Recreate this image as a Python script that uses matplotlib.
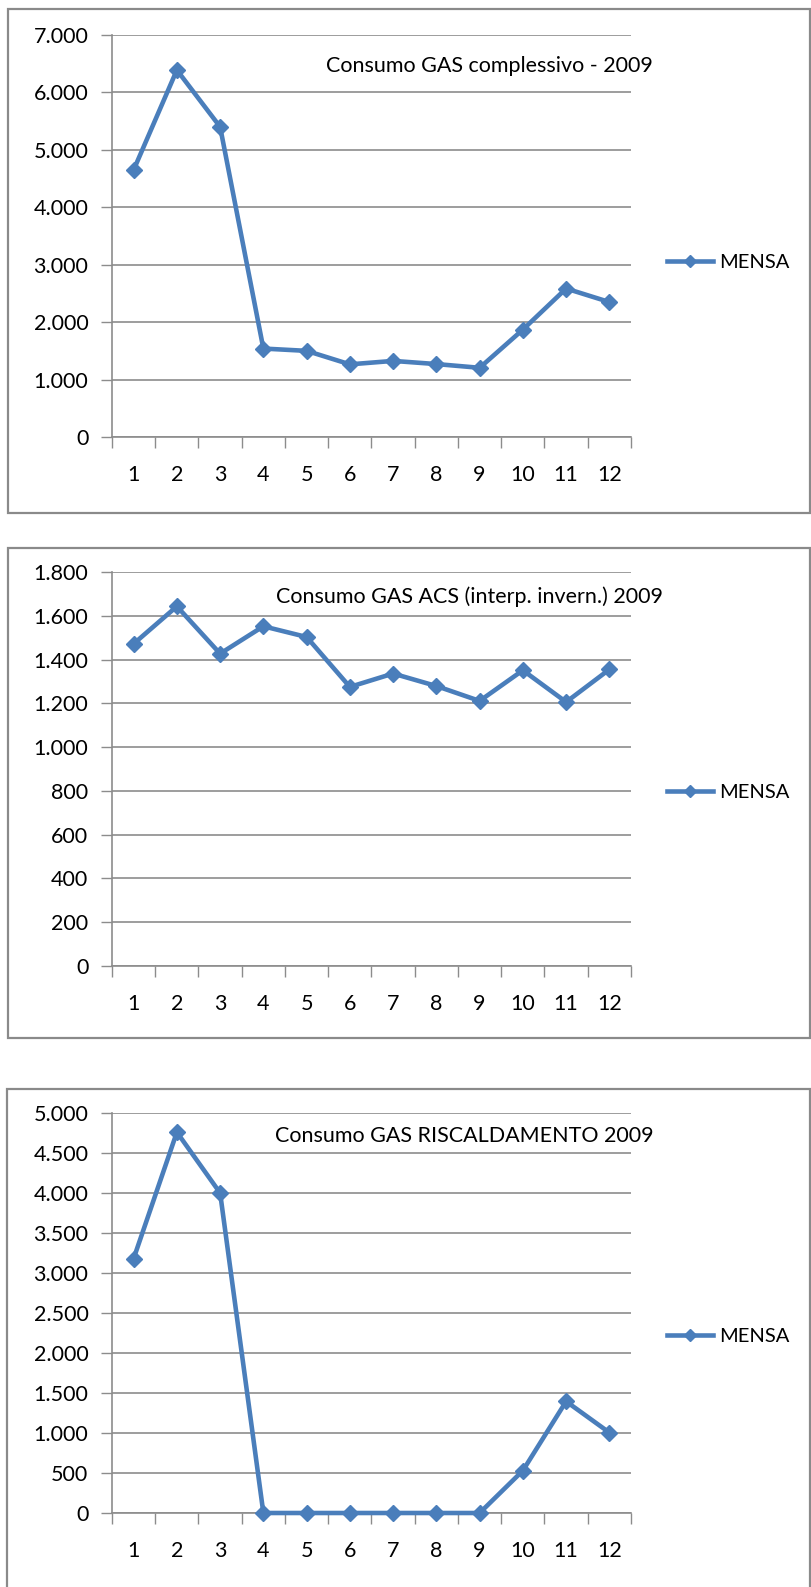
import matplotlib
matplotlib.use('Agg')
import matplotlib.pyplot as plt
from matplotlib.patches import Rectangle
from matplotlib.lines import Line2D
from matplotlib.ticker import FuncFormatter, MultipleLocator, FixedLocator

plt.rcParams['font.family'] = ['Lato', 'DejaVu Sans']

# ---- data ----
months = list(range(1, 13))
month_labels = [str(m) for m in months]
gas_total = [4650, 6390, 5400, 1540, 1500, 1265, 1325, 1270, 1205, 1870, 2585, 2350]
gas_acs = [1472, 1643, 1427, 1552, 1503, 1275, 1336, 1279, 1211, 1351, 1206, 1355]
gas_risc = [3180, 4760, 4000, 0, 0, 0, 0, 0, 0, 530, 1395, 1005]
series_name = 'MENSA'
titles = ['Consumo GAS complessivo - 2009',
          'Consumo GAS ACS (interp. invern.) 2009',
          'Consumo GAS RISCALDAMENTO 2009']
y_max = [7000, 1800, 5000]
y_step = [1000, 200, 500]

# ---- layout (pixels) ----
W, H = 812, 1587
fig = plt.figure(figsize=(W / 100, H / 100), dpi=100)

LINE_COLOR = '#4A7EBB'
GRID_COLOR = '#8C8C8C'
FS = 15.5

panels = [
    dict(data=gas_total, top=35, bottom=437, title_xy=(489, 66), leg_y=262, box=(8, 9, 810, 513)),
    dict(data=gas_acs, top=572, bottom=966, title_xy=(470, 597), leg_y=792, box=(8, 548, 810, 1038)),
    dict(data=gas_risc, top=1113, bottom=1513, title_xy=(464, 1136), leg_y=1336, box=(7, 1089, 810, 1600)),
]

left_px, right_px = 112, 631

def thousands(v, pos):
    return f"{int(round(v)):,}".replace(',', '.')

for i, p in enumerate(panels):
    # outer chart border
    l, t, r, b = p['box']
    fig.patches.append(Rectangle((l / W, 1 - b / H), (r - l) / W, (b - t) / H,
                                 transform=fig.transFigure, fill=False,
                                 edgecolor='#8A8A8A', lw=1.6, zorder=0))

    ax = fig.add_axes([left_px / W, 1 - p['bottom'] / H,
                       (right_px - left_px) / W, (p['bottom'] - p['top']) / H])
    ax.plot(months, p['data'], color=LINE_COLOR, lw=3.3, marker='D', ms=8,
            markeredgecolor=LINE_COLOR, solid_joinstyle='round', clip_on=False, zorder=3)

    ax.set_xlim(0.5, 12.5)
    ax.set_ylim(0, y_max[i])
    ax.yaxis.set_major_locator(MultipleLocator(y_step[i]))
    ax.yaxis.set_major_formatter(FuncFormatter(thousands))
    ax.set_xticks(months)
    ax.set_xticklabels(month_labels)
    ax.xaxis.set_minor_locator(FixedLocator([m + 0.5 for m in range(0, 13)]))

    ax.tick_params(axis='x', which='major', length=0, pad=20, labelsize=FS)
    ax.tick_params(axis='x', which='minor', length=8, width=1, color=GRID_COLOR, direction='out')
    ax.tick_params(axis='y', which='major', length=8, width=1, color=GRID_COLOR,
                   direction='out', pad=9, labelsize=FS)

    for s in ['top', 'right']:
        ax.spines[s].set_visible(False)
    for s in ['left', 'bottom']:
        ax.spines[s].set_color(GRID_COLOR)
        ax.spines[s].set_linewidth(1.2)
    ax.grid(axis='y', color=GRID_COLOR, lw=1.2)
    ax.set_axisbelow(True)

    # title inside plot
    tx, ty = p['title_xy']
    fig.text(tx / W, 1 - ty / H, titles[i], ha='center', va='center', fontsize=FS)

    # legend
    handle = Line2D([0], [0], color=LINE_COLOR, lw=3.3, marker='D', ms=6,
                    markeredgecolor=LINE_COLOR)
    fig.legend([handle], [series_name], loc='center left',
               bbox_to_anchor=(667 / W, 1 - p['leg_y'] / H), frameon=False,
               fontsize=14.5, handlelength=2.3, handletextpad=0.3, borderaxespad=0,
               borderpad=0)

fig.savefig('out.png', dpi=100)
